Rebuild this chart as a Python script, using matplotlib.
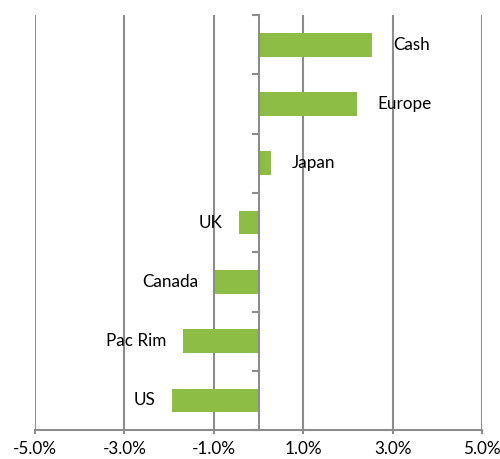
import matplotlib.pyplot as plt
import numpy as np

# Data (top to bottom as in the chart)
categories = ["Cash", "Europe", "Japan", "UK", "Canada", "Pac Rim", "US"]
values = [2.55, 2.2, 0.28, -0.44, -0.97, -1.69, -1.94]
x_ticks = [-5, -3, -1, 1, 3, 5]

plt.rcParams['font.family'] = ['Lato', 'DejaVu Sans']

fig = plt.figure(figsize=(5, 4.59), dpi=100)
ax = fig.add_axes([0.07, 0.063, 0.894, 0.904])

n = len(categories)
ypos = np.arange(n)[::-1]
bar_color = "#8DBD45"
grid_color = "#8C8C8C"
fs = 12.3

ax.barh(ypos, values, height=0.4, color=bar_color, zorder=3)

# category labels next to the bars
for y, v, name in zip(ypos, values, categories):
    if v >= 0:
        ax.annotate(name, (v, y), xytext=(15, 0), textcoords="offset points",
                    ha="left", va="center", fontsize=fs)
    else:
        ax.annotate(name, (v, y), xytext=(-12, 0), textcoords="offset points",
                    ha="right", va="center", fontsize=fs)

ax.set_xlim(-5, 5)
ax.set_ylim(-0.5, n - 0.5)
ax.set_xticks(x_ticks)
ax.set_xticklabels([f"{t:.1f}%" for t in x_ticks], fontsize=fs)
ax.xaxis.grid(True, color=grid_color, linewidth=1.5, zorder=0)

# vertical axis crossing at zero, ticks between categories
ax.spines['left'].set_position(('data', 0))
ax.spines['left'].set_color(grid_color)
ax.spines['left'].set_linewidth(1.5)
ax.spines['left'].set_zorder(4)
ax.spines['right'].set_visible(False)
ax.spines['top'].set_visible(False)
ax.spines['bottom'].set_color(grid_color)
ax.spines['bottom'].set_linewidth(1.5)
ax.set_yticks(np.arange(-0.5, n, 1.0))
ax.set_yticklabels([])
ax.tick_params(axis='y', direction='out', length=5, width=1.5, color=grid_color)
ax.tick_params(axis='x', direction='out', length=3, width=1.5, color=grid_color, pad=5)

fig.savefig("out.png", dpi=100)
